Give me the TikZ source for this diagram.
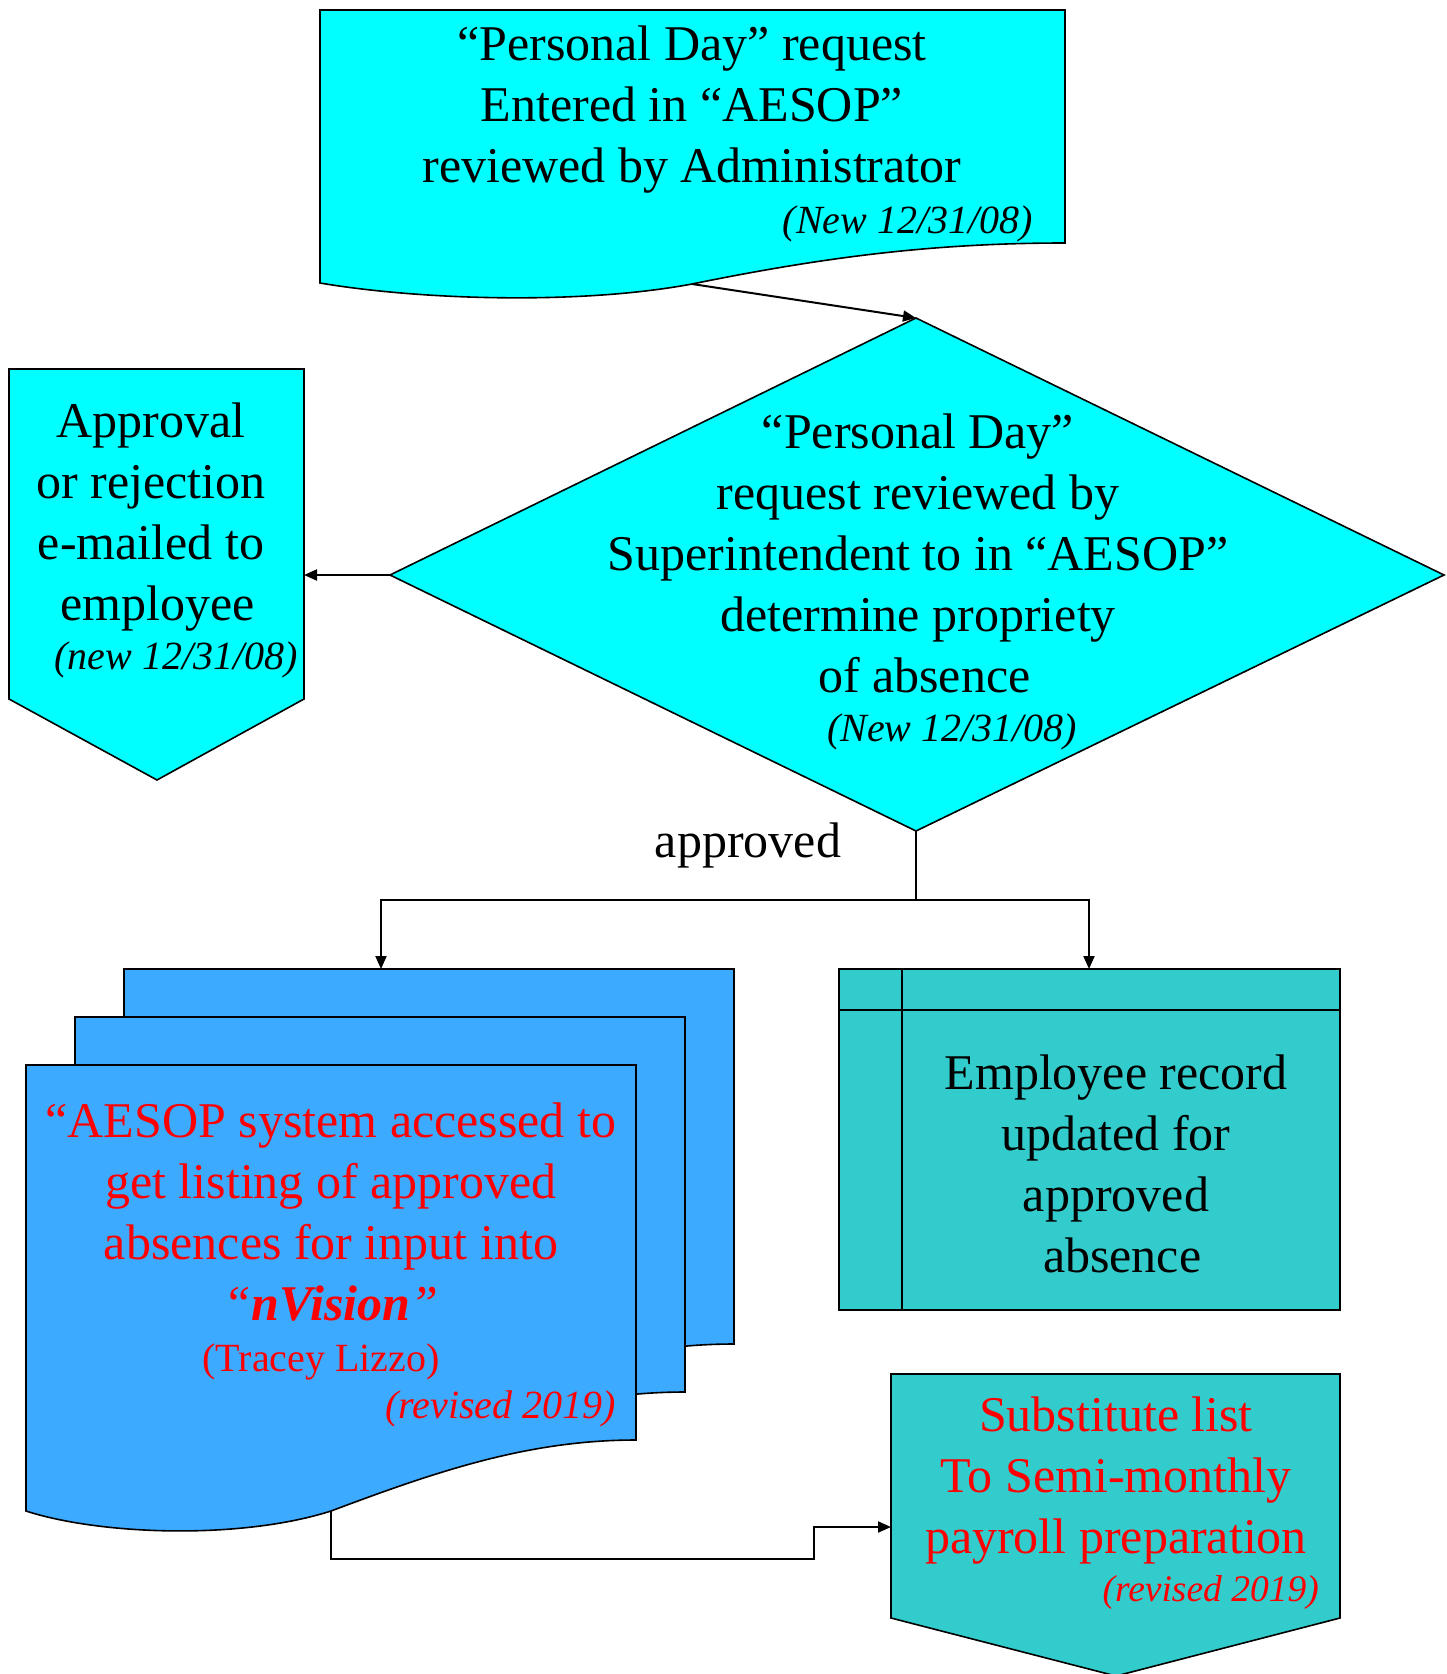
\documentclass[tikz,border=0pt]{standalone}
\usepackage{fontspec}
\setmainfont{Liberation Serif}
\usetikzlibrary{arrows.meta}
\definecolor{cyanfill}{HTML}{00FFFF}
\definecolor{docblue}{HTML}{3CAAFF}
\definecolor{tealfill}{HTML}{33CCCC}
\definecolor{redtext}{HTML}{FF0000}
\tikzset{
  shapeline/.style={draw=black, line width=1.6pt},
  conn/.style={draw=black, line width=2pt, -{Triangle[length=13pt,width=11pt]}},
  plainconn/.style={draw=black, line width=2pt},
  bigtext/.style={font=\fontsize{50}{61}\selectfont, align=center, inner sep=0pt},
  smallit/.style={font=\fontsize{40}{46}\selectfont\itshape, inner sep=0pt},
}
\begin{document}
\begin{tikzpicture}[x=1pt,y=-1pt]
\useasboundingbox (0,0) rectangle (1447,1674);

% ---- top document
\draw[shapeline, fill=cyanfill] (320,10) -- (1065,10) -- (1065,243)
  .. controls (930,243) and (820,258) .. (692,284)
  .. controls (580,305) and (420,300) .. (320,283) -- cycle;
\coordinate (topdoc-bot) at (692,284);
\node[bigtext] (toptext) at (692,110) {“Personal Day” request\\Entered in “AESOP”\\reviewed by Administrator};
\node[smallit, anchor=east] (topnew) at (1033,224) {(New 12/31/08)};

% ---- diamond
\draw[shapeline, fill=cyanfill] (916,318) -- (1444,575) -- (916,831) -- (390,575) -- cycle;
\coordinate (dia-top) at (916,318);
\coordinate (dia-left) at (390,575);
\coordinate (dia-bot) at (916,831);
\node[bigtext] (diatext) at (918,553) {“Personal Day”\\request reviewed by\\Superintendent to in “AESOP”\\determine propriety\\\ of absence};
\node[smallit] (dianew) at (952,732) {(New 12/31/08)};

% ---- left offpage pentagon
\draw[shapeline, fill=cyanfill] (9,369) -- (304,369) -- (304,699) -- (157,780) -- (9,699) -- cycle;
\coordinate (pent-right) at (304,575);
\node[bigtext] (penttext) at (151,517) {Approval\\or rejection\\e-mailed to\\\ employee};
\node[smallit] (pentnew) at (176,660) {(new 12/31/08)};

% ---- approved label
\node[bigtext] (apprlabel) at (748,845) {approved};

% ---- stacked documents
\foreach \d in {2,1,0}{
  \draw[shapeline, fill=docblue, shift={(\d*49,-\d*48)}] (26,1065) -- (636,1065) -- (636,1440)
    .. controls (530,1440) and (440,1470) .. (331,1511)
    .. controls (240,1540) and (100,1535) .. (26,1511) -- cycle;
}
\coordinate (docs-top) at (381,969);
\coordinate (docs-bot) at (331,1511);
\node[bigtext, text=redtext] (docstext) at (331,1212) {“AESOP system accessed to\\get listing of approved\\absences for input into\\\textit{“\textbf{nVision}”}};
\node[font=\fontsize{40}{46}\selectfont, text=redtext, inner sep=0pt] (tracey) at (321,1362) {(Tracey Lizzo)};
\node[smallit, text=redtext, anchor=east] (docsrev) at (616,1409) {(revised 2019)};

% ---- record box
\draw[shapeline, fill=tealfill] (839,969) rectangle (1340,1310);
\draw[shapeline] (839,1010) -- (1340,1010);
\draw[shapeline] (902,969) -- (902,1310);
\coordinate (rec-top) at (1089,969);
\node[bigtext] (rectext) at (1116,1164) {Employee record\\updated for\\approved\\\ absence};

% ---- bottom right pentagon
\draw[shapeline, fill=tealfill] (891,1374) -- (1340,1374) -- (1340,1618) -- (1116,1676) -- (891,1618) -- cycle;
\coordinate (sub-left) at (891,1527);
\node[bigtext, text=redtext] (subtext) at (1116,1481) {Substitute list\\To Semi-monthly\\payroll preparation};
\node[smallit, font=\fontsize{37.5}{44}\selectfont\itshape, text=redtext, anchor=east] (subrev) at (1319,1592) {(revised 2019)};

% ---- connectors
\draw[conn] (topdoc-bot) -- (dia-top);
\draw[conn] (dia-left) -- (pent-right);
\coordinate (split) at (916,900);
\draw[plainconn] (dia-bot) -- (split);
\draw[conn] (split) -| (docs-top);
\draw[conn] (split) -| (rec-top);
\coordinate (b1) at (331,1559);
\coordinate (b2) at (814,1559);
\coordinate (b3) at (814,1527);
\draw[conn] (docs-bot) -- (b1) -- (b2) -- (b3) -- (sub-left);
\end{tikzpicture}
\end{document}
